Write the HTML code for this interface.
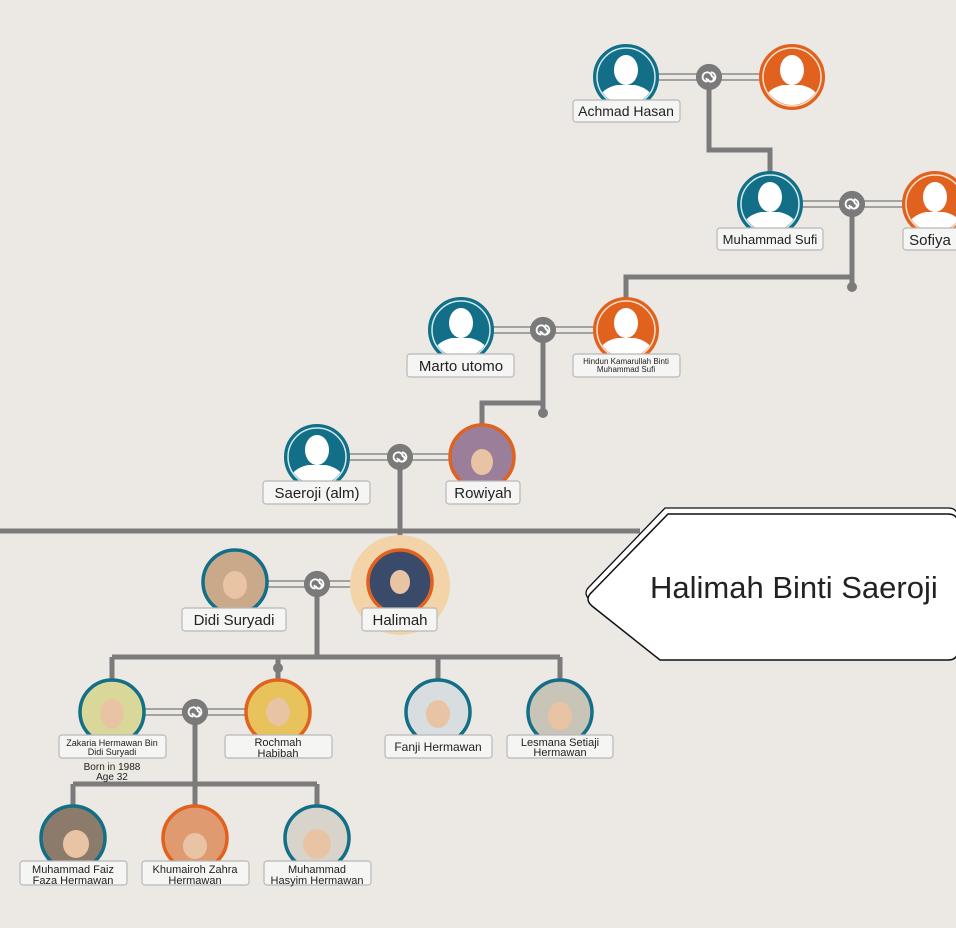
<!DOCTYPE html>
<html><head><meta charset="utf-8"><style>
body{margin:0;background:#ece9e4}
svg{display:block}
text{font-family:"Liberation Sans",sans-serif;fill:#222}
</style></head><body>
<svg width="956" height="928" viewBox="0 0 956 928" xmlns="http://www.w3.org/2000/svg">
<defs>
<symbol id="m" viewBox="-33 -33 66 66"><circle r="31" fill="#136f87" stroke="#136f87" stroke-width="4"/><circle r="29" fill="none" stroke="#cfeaf0" stroke-width="1.5"/><clipPath id="cm"><circle r="28"/></clipPath><g clip-path="url(#cm)" fill="#fff"><ellipse cx="0" cy="-7" rx="12" ry="15"/><path d="M-30 30 Q-28 12 -9 8 L9 8 Q28 12 30 30Z"/></g></symbol>
<symbol id="f" viewBox="-33 -33 66 66"><circle r="31" fill="#e0621e" stroke="#e0621e" stroke-width="4"/><circle r="29" fill="none" stroke="#fde0cc" stroke-width="1.5"/><clipPath id="cf"><circle r="28"/></clipPath><g clip-path="url(#cf)" fill="#fff"><ellipse cx="0" cy="-7" rx="12" ry="15"/><path d="M-30 30 Q-28 12 -9 8 L9 8 Q28 12 30 30Z"/></g></symbol>
<symbol id="k" viewBox="-15 -15 30 30"><circle r="14" fill="#7a7a7a"/><path d="M-2 5 A5 5 0 1 1 3 -1 A3 3 0 1 1 -1 2 M2 -5 A5 5 0 1 1 -3 1" fill="none" stroke="#fff" stroke-width="2"/></symbol>
</defs>
<g stroke="#7b7b7b" stroke-width="5" fill="none">
<path d="M709 77 V150 H770 V180"/>
<path d="M852 204 V287 M852 277 H626 V300"/>
<path d="M543 330 V413 M543 403 H482 V430"/>
<path d="M400 457 V560"/>
<path d="M0 531 H640"/>
<path d="M317 584 V657 M112 657 H560 M112 657 V690 M278 657 V690 M438 657 V690 M560 657 V690"/>
<path d="M195 712 V784 M73 784 H317 M73 784 V810 M195 784 V810 M317 784 V810"/>
</g>
<g fill="#7b7b7b"><circle cx="852" cy="287" r="5"/><circle cx="543" cy="413" r="5"/><circle cx="278" cy="668" r="5"/></g>
<g stroke="#8a8a8a" stroke-width="1.5">
<path d="M655 74 H762 M655 80 H762"/><path d="M800 201 H905 M800 207 H905"/>
<path d="M490 327 H596 M490 333 H596"/><path d="M346 454 H452 M346 460 H452"/>
<path d="M264 581 H372 M264 587 H372"/><path d="M141 709 H250 M141 715 H250"/>
</g>
<circle cx="400" cy="585" r="50" fill="#f3d3a8"/>
<use href="#m" x="593" y="44" width="66" height="66"/>
<use href="#f" x="759" y="44" width="66" height="66"/>
<use href="#m" x="737" y="171" width="66" height="66"/>
<use href="#f" x="902" y="171" width="66" height="66"/>
<use href="#m" x="428" y="297" width="66" height="66"/>
<use href="#f" x="593" y="297" width="66" height="66"/>
<use href="#m" x="284" y="424" width="66" height="66"/>
<g stroke-width="3.5">
<circle cx="482" cy="457" r="32" fill="#9b7f9a" stroke="#e0621e"/>
<circle cx="235" cy="582" r="32" fill="#c9a98a" stroke="#136f87"/>
<circle cx="400" cy="582" r="32" fill="#3a4a6a" stroke="#e0621e"/>
<circle cx="112" cy="712" r="32" fill="#d9d89a" stroke="#136f87"/>
<circle cx="278" cy="712" r="32" fill="#e8c25a" stroke="#e0621e"/>
<circle cx="438" cy="712" r="32" fill="#d8dde0" stroke="#136f87"/>
<circle cx="560" cy="712" r="32" fill="#c9c4b8" stroke="#136f87"/>
<circle cx="73" cy="838" r="32" fill="#8c7a6a" stroke="#136f87"/>
<circle cx="195" cy="838" r="32" fill="#e09a70" stroke="#e0621e"/>
<circle cx="317" cy="838" r="32" fill="#d8d4cc" stroke="#136f87"/>
</g>
<g fill="#e9c4a4"><ellipse cx="482" cy="462" rx="11" ry="13"/><ellipse cx="235" cy="585" rx="12" ry="14"/><ellipse cx="400" cy="582" rx="10" ry="12"/><ellipse cx="112" cy="714" rx="12" ry="15"/><ellipse cx="278" cy="712" rx="12" ry="14"/><ellipse cx="438" cy="714" rx="12" ry="14"/><ellipse cx="560" cy="716" rx="12" ry="14"/><ellipse cx="76" cy="844" rx="13" ry="14"/><ellipse cx="195" cy="846" rx="12" ry="13"/><ellipse cx="317" cy="844" rx="14" ry="15"/></g>
<use href="#k" x="695" y="63" width="28" height="28"/>
<use href="#k" x="838" y="190" width="28" height="28"/>
<use href="#k" x="529" y="316" width="28" height="28"/>
<use href="#k" x="386" y="443" width="28" height="28"/>
<use href="#k" x="303" y="570" width="28" height="28"/>
<use href="#k" x="181" y="698" width="28" height="28"/>
<g fill="#f5f5f4" stroke="#b8b8b8" stroke-width="1.2">
<rect x="573" y="100" width="107" height="22" rx="3"/>
<rect x="717" y="228" width="106" height="22" rx="3"/>
<rect x="903" y="228" width="60" height="22" rx="3"/>
<rect x="407" y="354" width="107" height="23" rx="3"/>
<rect x="573" y="354" width="107" height="23" rx="3"/>
<rect x="263" y="481" width="107" height="23" rx="3"/>
<rect x="446" y="481" width="74" height="23" rx="3"/>
<rect x="182" y="608" width="104" height="23" rx="3"/>
<rect x="362" y="608" width="75" height="23" rx="3"/>
<rect x="59" y="735" width="107" height="23" rx="3"/>
<rect x="225" y="735" width="107" height="23" rx="3"/>
<rect x="385" y="735" width="107" height="23" rx="3"/>
<rect x="507" y="735" width="106" height="23" rx="3"/>
<rect x="20" y="861" width="107" height="24" rx="3"/>
<rect x="142" y="861" width="107" height="24" rx="3"/>
<rect x="264" y="861" width="107" height="24" rx="3"/>
</g>
<g text-anchor="middle" font-size="14">
<text x="626" y="116">Achmad Hasan</text>
<text x="770" y="244" font-size="13">Muhammad Sufi</text>
<text x="930" y="245" font-size="15">Sofiya</text>
<text x="461" y="371" font-size="15">Marto utomo</text>
<text x="626" y="364" font-size="8">Hindun Kamarullah Binti</text>
<text x="626" y="372" font-size="8">Muhammad Sufi</text>
<text x="317" y="498" font-size="15">Saeroji (alm)</text>
<text x="483" y="498" font-size="15">Rowiyah</text>
<text x="234" y="625" font-size="15">Didi Suryadi</text>
<text x="400" y="625" font-size="15">Halimah</text>
<text x="112" y="746" font-size="9">Zakaria Hermawan Bin</text>
<text x="112" y="755" font-size="9">Didi Suryadi</text>
<text x="112" y="770" font-size="10">Born in 1988</text>
<text x="112" y="780" font-size="10">Age 32</text>
<text x="278" y="746" font-size="11">Rochmah</text>
<text x="278" y="757" font-size="11">Habibah</text>
<text x="438" y="751" font-size="12">Fanji Hermawan</text>
<text x="560" y="746" font-size="11">Lesmana Setiaji</text>
<text x="560" y="756" font-size="11">Hermawan</text>
<text x="73" y="873" font-size="11">Muhammad Faiz</text>
<text x="73" y="884" font-size="11">Faza Hermawan</text>
<text x="195" y="873" font-size="11">Khumairoh Zahra</text>
<text x="195" y="884" font-size="11">Hermawan</text>
<text x="317" y="873" font-size="11">Muhammad</text>
<text x="317" y="884" font-size="11">Hasyim Hermawan</text>
</g>
<path d="M665 508 H948 Q958 508 958 518 V645 Q958 655 948 655 H657 L590 600 Q582 593 590 586 Z" fill="#fff" stroke="#111" stroke-width="1.3"/>
<path d="M668 514 H948 Q958 514 958 524 V650 Q958 660 948 660 H660 L592 606 Q584 599 592 592 Z" fill="#fff" stroke="#111" stroke-width="1.5"/>
<text x="650" y="598" font-size="31" fill="#111">Halimah Binti Saeroji</text>
</svg>
</body></html>
